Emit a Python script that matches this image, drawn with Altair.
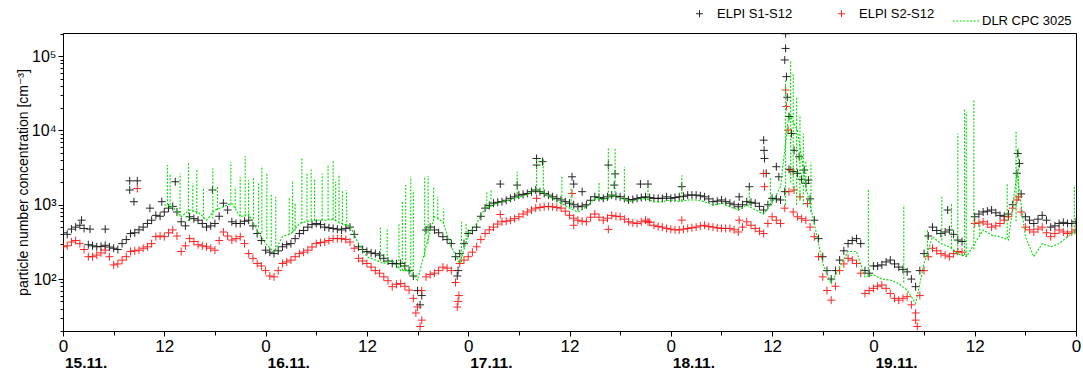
import altair as alt
import pandas as pd

FONT = "Liberation Sans, Arial, DejaVu Sans"
S1 = "ELPI S1-S12"
S2 = "ELPI S2-S12"
CPC = "DLR CPC 3025"

# hours since 15.11. 00:00 (full hours and half hours)
hours = list(range(121))
half_hours = [h + 0.5 for h in range(120)]

elpi_s1 = [420, 470, 530, 290, 272, 285, 260, 300, 410, 460, 560, 720, 800, 950, 590, 690, 620, 500, 560, 1050,
           590, 560, 620, 410, 245, 220, 272, 300, 410, 500, 560, 500, 480, 458, 500, 272, 235, 220, 190, 162,
           162, 130, 70, 458, 458, 372, 300, 220, 410, 500, 900, 1050, 1100, 1220, 1350, 1420, 1580, 1420, 1280, 1160,
           1050, 940, 1000, 1280, 1220, 1350, 1280, 1160, 1220, 1280, 1220, 1220, 1220, 1280, 1350, 1350, 1280, 1100, 1160, 1050,
           940, 1100, 1050, 850, 1220, 1160, 3000, 2650, 1940, 620, 200, 100, 180, 300, 350, 130, 150, 155, 180, 145,
           125, 79, 220, 500, 410, 458, 335, None, 690, 800, 850, 720, 750, 2650, 690, 560, 720, 500, 560, 560, 590]
elpi_s1_half = [400, 500, 480, 280, 275, 270, 250, 340, 420, 500, 620, 700, 900, 800, 520, 650, 560, 520, 700, 850,
                560, 600, 520, 330, 230, 240, 290, 350, 450, 540, 540, 490, 470, 480, 400, 250, 225, 210, 175, 160,
                150, 110, 60, 500, 420, 340, 200, 300, 450, 700, 980, 1080, 1150, 1280, 1380, 1500, 1500, 1350, 1220, 1100,
                1000, 960, 1150, 1250, 1280, 1300, 1220, 1180, 1250, 1250, 1220, 1280, 1250, 1300, 1350, 1320, 1200, 1120, 1100, 1000,
                1000, 1080, 950, 1000, 1200, 1500, 2800, 2200, 1200, 350, 130, 130, 240, 330, 300, 120, 150, 170, 160, 135,
                100, 130, 380, 450, 430, 400, 320, None, 750, 820, 780, 700, 1000, 1400, 620, 640, 620, 520, 580, 560]

elpi_s2 = [272, 315, 300, 200, 210, 245, 155, 180, 235, 245, 272, 372, 372, 458, 235, 350, 290, 272, 245, 430,
           335, 372, 220, 162, 130, 107, 162, 180, 220, 245, 300, 315, 350, 350, 315, 190, 162, 130, 107, 79,
           87, 71, 42, 107, 120, 145, 130, 162, 200, 272, 410, 500, 590, 620, 690, 800, 900, 940, 940, 900,
           720, 620, 590, 750, 620, 720, 690, 590, 560, 620, 530, 500, 470, 458, 480, 500, 530, 500, 480, 480,
           430, 590, 480, 410, 690, 560, 1500, 690, 620, 372, 107, 52, 130, 190, 162, 64, 75, 83, 64, 52,
           58, 35, 130, 260, 220, 200, 235, None, 560, 590, 500, 560, 690, 1160, 500, 430, 500, 372, 458, 410, 458]
elpi_s2_half = [280, 330, 250, 200, 225, 200, 160, 200, 240, 260, 300, 380, 420, 380, 280, 320, 280, 260, 330, 380,
                350, 300, 190, 150, 110, 130, 170, 200, 230, 270, 310, 330, 350, 340, 260, 175, 145, 120, 95, 85,
                80, 55, 70, 115, 130, 140, 90, 180, 230, 340, 460, 550, 600, 650, 750, 850, 920, 950, 920, 820,
                660, 600, 680, 680, 660, 700, 640, 570, 590, 580, 510, 480, 460, 470, 490, 520, 510, 490, 480, 460,
                500, 530, 440, 560, 620, 900, 800, 650, 500, 200, 70, 80, 160, 180, 120, 70, 80, 75, 55, 55,
                45, 60, 200, 240, 210, 220, 230, None, 570, 550, 520, 620, 900, 800, 460, 470, 420, 410, 430, 430]

dlr_cpc = [None] * 12 + [1000, 940, 690, 850, 800, 620, 850, 940, 1050, 690, 750, 458, 300, 230, 372, 410, 560, 600,
                         620, 620, 640, 560, 520, 300, 200, 180, 162, 180, 130, 130, 97, 272, 690, 590, 272, 162, 390, 560,
                         900, 990, 1100, 1160, 1280, 1350, 1650, 1420, 1220, 1050, 900, 800, 940, 1220, 1160, 1350, 1220, 1100, 1160, 1220,
                         1100, 1100, 1160, 1100, 1160, 1160, 1100, 990, 1050, 940, 850, 990, 850, 750, 1050, 1750, 17000, 10000, 1750, 560,
                         162, 87, 145, 235, 235, 107, 114, 100, 97, 87, 71, 47, 162, 372, 300, 272, 220, 200, 300, 458,
                         390, 372, 335, 2650, 372, 200, 300, 272, 300, 372, 458]

# isolated ELPI readings away from the main band
s1_extra_t = [2.2, 3.2, 5.0, 7.9, 7.9, 8.4, 8.8, 10.3, 11.7, 13.3, 17.7, 42.3, 46.7, 46.8,
              51.8, 53.8, 56.1, 56.1, 56.8, 60.3, 60.5, 61.5, 64.6, 65.3, 65.4, 68.4, 69.3,
              73.3, 80.1, 81.3, 83.0, 83.05, 83.1, 83.3, 84.5, 84.8, 85.5, 85.6, 85.6, 85.7, 85.8,
              86.0, 86.3, 86.6, 87.2, 87.8, 88.3, 104.8, 113.1, 113.3]
s1_extra_v = [620, 470, 470, 2100, 1580, 1100, 2100, 900, 1100, 2040, 1580, 45, 110, 130,
              1900, 1840, 4200, 3420, 3800, 2380, 1900, 1500, 3420, 1840, 2600, 1900, 1900,
              1750, 1280, 1750, 7400, 5400, 4200, 2640, 3250, 2380, 89000, 200000, 127000, 53000, 28000,
              15400, 9100, 5400, 4430, 2930, 2150, 850, 4900, 3600]

s2_extra_t = [8.8, 41.8, 42.3, 42.5, 46.7, 46.8, 46.9, 51.8, 56.1, 60.3, 60.5, 64.6, 69.3,
              73.3, 80.1, 83.0, 83.1, 85.6, 85.7, 85.9, 86.2, 86.6, 87.3, 88.2, 101.0, 101.2, 113.2]
s2_extra_v = [1650, 35, 23, 28, 42, 50, 60, 740, 1220, 1420, 530, 466, 590,
              620, 620, 2640, 1750, 35000, 21000, 10100, 2930, 1580, 1280, 1040, 28, 23, 1280]

# CPC short spikes: time, base, peak
spike_t = [12.37, 12.69, 13.87, 14.86, 15.38, 15.85, 16.64, 17.75, 18.30, 19.88, 20.40, 20.99, 21.58, 21.98,
           22.57, 23.16, 23.56, 24.15, 24.67, 25.2, 26.8, 27.2, 27.5, 28.3, 28.9, 29.4, 29.8, 30.7,
           31.4, 32.0, 32.3, 32.7, 33.1, 33.6, 37.6, 38.4, 39.8, 40.2, 40.6, 41.2, 41.5, 42.85, 43.25,
           43.9, 44.4, 45.1, 47.2, 47.75, 50.2, 50.7, 53.8, 56.1, 56.9, 59.1, 60.2, 63.5, 64.6, 65.4,
           66.5, 69.3, 73.3, 81.3, 83.8, 85.6, 86.2, 86.5, 86.9, 87.3, 87.7, 88.0, 88.6, 95.4, 99.6,
           102.4, 104.1, 105.25, 106.0, 106.8, 107.0, 107.9, 108.6, 111.85, 112.9, 113.2, 119.8]
spike_lo = [1000, 900, 700, 600, 800, 750, 650, 650, 850, 1000, 900, 700, 690, 700,
            650, 500, 420, 350, 280, 240, 390, 420, 450, 560, 600, 620, 620, 620,
            620, 640, 600, 560, 540, 520, 175, 165, 140, 130, 130, 125, 115, 200, 300,
            600, 650, 560, 170, 300, 900, 950, 1250, 1600, 1450, 1050, 900, 1200, 1180, 1300,
            1200, 1200, 1120, 990, 1000, 1000, 2000, 1500, 1000, 1200, 1000, 1500, 800, 110, 90,
            200, 330, 260, 220, 210, 205, 250, 400, 350, 600, 1500, 400]
spike_hi = [3420, 2640, 2640, 3800, 1940, 2930, 1750, 3090, 1750, 3800, 1750, 2380, 4520, 2150,
            2380, 1940, 3320, 2640, 1420, 1280, 1280, 2150, 1040, 4200, 2640, 2990, 2260, 2640,
            3420, 4000, 2040, 2600, 1580, 1580, 506, 466, 560, 1100, 1840, 2380, 1580, 2430, 2430,
            1750, 1280, 890, 590, 560, 1500, 1610, 2780, 4200, 4330, 2380, 1750, 2040, 5740, 5740,
            3250, 1750, 2500, 1750, 2380, 50000, 89000, 60000, 28400, 16100, 9100, 4000, 3700, 1660, 990,
            458, 1280, 1040, 9130, 19800, 17800, 25700, 600, 1900, 10100, 5740, 1840]

day_t = [0, 24, 48, 72, 96]
day_labels = ["15.11.", "16.11.", "17.11.", "18.11.", "19.11."]

# ---------- tables ----------
pts = pd.concat([
    pd.DataFrame({"t": hours, "v": elpi_s1, "series": S1}),
    pd.DataFrame({"t": half_hours, "v": elpi_s1_half, "series": S1}),
    pd.DataFrame({"t": s1_extra_t, "v": s1_extra_v, "series": S1}),
    pd.DataFrame({"t": hours, "v": elpi_s2, "series": S2}),
    pd.DataFrame({"t": half_hours, "v": elpi_s2_half, "series": S2}),
    pd.DataFrame({"t": s2_extra_t, "v": s2_extra_v, "series": S2}),
], ignore_index=True).dropna()
line_df = pd.DataFrame({"t": hours, "v": dlr_cpc, "series": CPC}).dropna()
spike_df = pd.DataFrame({"t": spike_t, "lo": spike_lo, "hi": spike_hi})
day_df = pd.DataFrame({"t": day_t, "label": day_labels})

PLUS = "M-1,0L1,0M0,-1L0,1"
GREEN = "#00dd00"

x_axis = alt.Axis(
    values=list(range(0, 121, 6)),
    labelExpr="datum.value % 24 == 0 ? '0' : (datum.value % 12 == 0 ? '12' : '')",
    tickSize={"condition": {"test": "datum.value % 12 == 0", "value": 5}, "value": 4},
    labelFontSize=17, labelPadding=2, title=None, grid=False,
    labelOverlap=False, labelFlush=False,
)
y_vals = [20, 30, 40, 50, 60, 70, 80, 90,
          100, 200, 300, 400, 500, 600, 700, 800, 900,
          1000, 2000, 3000, 4000, 5000, 6000, 7000, 8000, 9000,
          10000, 20000, 30000, 40000, 50000, 60000, 70000, 80000, 90000,
          100000, 200000]
y_axis = alt.Axis(
    values=y_vals,
    labelExpr="datum.value == 100 ? '10²' : datum.value == 1000 ? '10³' : datum.value == 10000 ? '10⁴' : datum.value == 100000 ? '10⁵' : ''",
    tickSize={"condition": {"test": "indexof([100, 1000, 10000, 100000], datum.value) >= 0", "value": 5}, "value": 3},
    labelFontSize=16, labelPadding=2, labelOverlap=False, grid=False,
    title="particle number concentration [cm⁻³]",
    titleX=-40, titleY=149, titleAngle=-90, titleAlign="center", titleBaseline="middle",
    titleFontSize=14, titleFontWeight="normal",
)
y_scale = alt.Scale(type="log", domain=[20, 205000], nice=False)

X = alt.X("t:Q", scale=alt.Scale(domain=[0, 120], nice=False, zero=False), axis=x_axis)
Y = alt.Y("v:Q", scale=y_scale, axis=y_axis)

points = alt.Chart(pts).mark_point(
    shape=PLUS, filled=False, size=64, strokeWidth=1, opacity=0.85, clip=True
).encode(
    x=X, y=Y,
    color=alt.Color("series:N",
                    scale=alt.Scale(domain=[S1, S2], range=["#000000", "#ff0000"]),
                    legend=alt.Legend(
                        title=None, orient="none", legendX=630, legendY=-26, direction="horizontal",
                        labelFont=FONT, labelFontSize=13, labelColor="black", labelOffset=11,
                        columnPadding=42, padding=0,
                        symbolType=PLUS, symbolSize=49, symbolStrokeWidth=1)),
)

line = alt.Chart(line_df).mark_line(
    strokeWidth=1.1, clip=True, color=GREEN
).encode(
    x=X, y=Y,
    strokeDash=alt.StrokeDash("series:N",
                              scale=alt.Scale(domain=[CPC], range=[[2, 1.5]]),
                              legend=alt.Legend(
                                  title=None, orient="none", legendX=889, legendY=-26,
                                  labelFont=FONT, labelFontSize=13, labelColor="black", labelOffset=2,
                                  padding=0, symbolType="stroke", symbolSize=700,
                                  symbolStrokeColor=GREEN, symbolStrokeWidth=1.1)),
)

spikes = alt.Chart(spike_df).mark_rule(
    strokeDash=[2, 1.5], strokeWidth=1.1, clip=True, color=GREEN
).encode(x=X, y=alt.Y("lo:Q", scale=y_scale, axis=y_axis), y2="hi:Q")

days = alt.Chart(day_df).mark_text(
    align="left", baseline="middle", dx=2, font=FONT, fontSize=15.5, fontWeight="bold", color="black"
).encode(x=X, y=alt.value(330), text="label:N")

chart = alt.layer(points, line, spikes, days).properties(
    width=1013, height=298,
    autosize=alt.AutoSizeParams(type="none"),
    padding={"left": 63, "top": 33, "right": 7, "bottom": 41},
).configure_view(
    stroke="black", strokeWidth=1
).configure_axis(
    labelFont=FONT, titleFont=FONT, labelColor="black", titleColor="black",
    domainColor="black", tickColor="black", domainWidth=1, tickWidth=1,
)

chart.save("out.html", embed_options={"renderer": "svg", "actions": False})
